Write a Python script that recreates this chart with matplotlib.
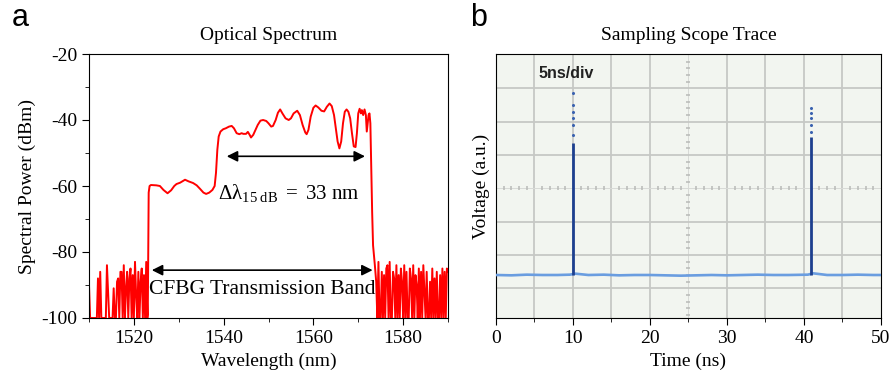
import numpy as np
import matplotlib
matplotlib.use("Agg")
import matplotlib.pyplot as plt
from matplotlib.ticker import MultipleLocator

plt.rcParams['font.family'] = ['Liberation Serif', 'DejaVu Serif']
plt.rcParams['mathtext.fontset'] = 'custom'
plt.rcParams['mathtext.rm'] = 'Liberation Serif'
plt.rcParams['mathtext.it'] = 'Liberation Serif:italic'
plt.rcParams['axes.unicode_minus'] = False

# ---- panel a: optical spectrum ----
noise_step = 0.25
noise_left_start = 1510.0
noise_left_db = [-90, -100, -100, -100, -100, -100, -100, -100, -88, -100, -86, -100,
                 -100, -100, -100, -100, -84, -92, -100, -100, -100, -100, -91, -100,
                 -100, -89, -88, -100, -86, -86, -100, -84, -100, -91, -86, -100,
                 -88, -85, -100, -87, -100, -83, -93, -100, -86, -100, -89, -85,
                 -100, -87, -100, -83, -100]
noise_right_start = 1574.0
noise_right_db = [-89, -100, -83, -100, -100, -86, -100, -87, -100, -85, -84, -100,
                  -83, -100, -100, -86, -88, -100, -84, -100, -87, -100, -85, -89,
                  -100, -84, -100, -86, -100, -100, -85, -88, -100, -84, -100, -87,
                  -90, -100, -85, -100, -86, -100, -84, -92, -100, -86, -100, -100,
                  -89, -100, -85, -100, -88, -100, -86, -100, -100, -87, -100, -85,
                  -100, -86, -100, -85, -86]

band_wl = [1523.1, 1523.3, 1523.5, 1523.8, 1525.0, 1525.8, 1526.6, 1527.5, 1528.3, 1529.0,
           1529.5, 1530.3, 1531.4, 1532.2, 1533.2, 1534.0, 1534.7, 1535.5, 1536.1, 1536.8,
           1537.5, 1538.0, 1538.3, 1538.6, 1538.9, 1539.3, 1539.9, 1540.5, 1541.2, 1541.8,
           1542.3, 1542.9, 1543.5, 1544.0, 1544.4, 1545.0, 1545.4, 1545.8, 1546.1, 1546.6,
           1547.0, 1547.6, 1548.2, 1548.8, 1549.5, 1550.0, 1550.6, 1551.0, 1551.6, 1552.1,
           1552.6, 1553.1, 1553.8, 1554.5, 1555.0, 1555.6, 1556.4, 1557.0, 1557.6, 1558.2,
           1558.5, 1558.9, 1559.4, 1560.0, 1560.5, 1561.1, 1561.8, 1562.4, 1563.0, 1563.6,
           1564.1, 1564.6, 1565.0, 1565.4, 1565.8, 1566.2, 1566.6, 1567.0, 1567.4, 1567.8,
           1568.2, 1568.6, 1569.0, 1569.4, 1569.7, 1570.0, 1570.3, 1570.6, 1570.8, 1571.1,
           1571.4, 1571.7, 1571.9, 1572.1, 1572.3, 1572.5, 1572.7, 1572.9, 1573.1, 1573.3,
           1573.5, 1573.7]
band_db = [-99, -62, -60, -59.7, -59.8, -60.0, -61.2, -62.2, -61.3, -60.0,
           -59.4, -59.0, -58.1, -58.6, -59.1, -59.8, -60.8, -62.0, -62.4, -62.0,
           -61.2, -60.0, -56.0, -49.0, -45.0, -43.5, -42.8, -42.5, -42.0, -41.8,
           -42.5, -44.0, -44.3, -44.0, -44.2, -44.2, -43.6, -44.5, -45.3, -44.5,
           -43.3, -41.5, -40.2, -40.0, -40.3, -41.0, -42.0, -41.8, -40.0, -37.8,
           -36.8, -38.0, -39.5, -40.0, -39.5, -38.0, -37.2, -38.5, -41.5, -43.8,
           -44.3, -43.0, -39.0, -36.3, -35.6, -36.2, -37.2, -37.4, -36.0, -35.0,
           -35.8, -38.5, -42.5, -46.5, -48.6, -46.5, -41.0, -37.5, -36.8, -37.5,
           -39.5, -44.0, -48.0, -48.2, -44.0, -38.0, -36.6, -38.0, -37.0, -38.5,
           -36.8, -38.5, -43.5, -41.0, -38.5, -38.0, -41.0, -55.0, -68.0, -78.0,
           -81.0, -84.0]

# arrows: (start wl, end wl, level dBm)
width_arrow = (1540.7, 1571.5, -51)
band_arrow = (1524.0, 1573.2, -85.5)

# ---- panel b: sampling scope trace (in screen divisions) ----
base_t = [0, 2, 4, 6, 8, 9.6, 10.3, 12, 14, 16, 18, 20, 22, 24, 26, 28, 30, 32, 34,
          36, 38, 40.5, 41.2, 43, 45, 47, 49, 50]
base_v = [0.40, 0.39, 0.41, 0.40, 0.40, 0.41, 0.44, 0.40, 0.41, 0.39, 0.40, 0.40, 0.39,
          0.38, 0.39, 0.40, 0.39, 0.40, 0.41, 0.40, 0.40, 0.41, 0.45, 0.40, 0.40, 0.41,
          0.40, 0.40]
peak_t = [9.95, 40.85]
peak_dense = [4.35, 4.55]
peak1_dots = [4.6, 4.9, 5.1, 5.3, 5.5, 5.85]
peak2_dots = [4.7, 4.9, 5.1, 5.25, 5.4]

fig = plt.figure(figsize=(8.95, 3.82), dpi=100)
ax1 = fig.add_axes([89/895, 1-318/382, 359/895, 264/382])
ax2 = fig.add_axes([496/895, 1-318/382, 385/895, 264/382])

nl_wl = noise_left_start + noise_step*np.arange(len(noise_left_db))
nr_wl = noise_right_start + noise_step*np.arange(len(noise_right_db))
wl = np.concatenate([nl_wl, band_wl, nr_wl])
db = np.concatenate([noise_left_db, band_db, noise_right_db])
ax1.plot(wl, db, color='#ff0000', lw=1.4)

ax1.set_xlim(1510, 1590)
ax1.set_ylim(-100, -20)
ax1.xaxis.set_major_locator(MultipleLocator(20))
ax1.xaxis.set_minor_locator(MultipleLocator(10))
ax1.yaxis.set_major_locator(MultipleLocator(20))
ax1.yaxis.set_minor_locator(MultipleLocator(10))
ax1.tick_params(which='both', direction='out', top=False, right=False, labelsize=14)
ax1.tick_params(which='major', length=5)
ax1.tick_params(which='minor', length=3)
ax1.set_xlabel('Wavelength (nm)', fontsize=14)
ax1.set_ylabel('Spectral Power (dBm)', fontsize=14)
ax1.set_title('Optical Spectrum', fontsize=14, pad=10)

for a0, a1, lev in [width_arrow, band_arrow]:
    ax1.annotate('', xy=(a1, lev), xytext=(a0, lev),
                 arrowprops=dict(arrowstyle='<|-|>', color='black', lw=1.2,
                                 mutation_scale=16, shrinkA=0, shrinkB=0))
ax1.text(1538.8, -62.2, r'$\mathrm{\Delta\lambda_{15\ dB}\ =\ 33\ nm}$',
         fontsize=15, va='center', ha='left')
ax1.text(1548.5, -91.5, 'CFBG Transmission Band', fontsize=15.5, va='center', ha='center')

# scope screen
ax2.set_facecolor('#f2f5f0')
ax2.set_xlim(0, 50)
ax2.set_ylim(-0.89, 7.03)
grid_col = '#c6c8c5'
center_col = '#b8bab7'
for gx in np.arange(5, 50, 5):
    if gx == 25:
        ax2.axvline(gx, color='#d8dad7', lw=0.7, zorder=1)
    else:
        ax2.axvline(gx, color=grid_col, lw=1.3, zorder=1)
for gy in range(0, 7):
    if gy == 3:
        ax2.axhline(gy, color='#d8dad7', lw=0.7, zorder=1)
    else:
        ax2.axhline(gy, color=grid_col, lw=1.3, zorder=1)
# sub-division marks on the centre lines
sub_t = [t for t in np.arange(1, 50, 1) if t % 5 != 0]
sub_v = [v for v in np.arange(-0.8, 7.0, 0.2) if abs(v - round(v)) > 0.05]
ax2.plot(sub_t, [3]*len(sub_t), ls='none', marker='|', ms=3, mew=1.1,
         color=center_col, zorder=1)
ax2.plot([25]*len(sub_v), sub_v, ls='none', marker='_', ms=3, mew=1.1,
         color=center_col, zorder=1)

ax2.plot(base_t, base_v, color='#6a9de0', lw=1.9, zorder=3)
ax2.vlines(peak_t, [0.4, 0.4], peak_dense, color='#1d3f8f', lw=2.0, zorder=4)
ax2.plot([peak_t[0]]*len(peak1_dots), peak1_dots, ls='none', marker='.', ms=2.4,
         color='#3a62b0', zorder=4)
ax2.plot([peak_t[1]]*len(peak2_dots), peak2_dots, ls='none', marker='.', ms=2.4,
         color='#3a62b0', zorder=4)
ax2.text(0.11, 0.925, '5ns/div', transform=ax2.transAxes, fontsize=11.5,
         fontweight='bold', family='Liberation Sans', color='#222222', va='center')

ax2.xaxis.set_major_locator(MultipleLocator(10))
ax2.xaxis.set_minor_locator(MultipleLocator(5))
ax2.set_yticks([])
ax2.tick_params(which='both', direction='out', top=False, right=False, labelsize=14)
ax2.tick_params(which='major', length=5)
ax2.tick_params(which='minor', length=3)
ax2.set_xlabel('Time (ns)', fontsize=14)
ax2.set_ylabel('Voltage (a.u.)', fontsize=14)
ax2.set_title('Sampling Scope Trace', fontsize=14, pad=10)

fig.text(12/895, 1-18/382, 'a', fontsize=22, family='Liberation Sans', va='center')
fig.text(470/895, 1-18/382, 'b', fontsize=22, family='Liberation Sans', va='center')

fig.savefig('out.png', dpi=100)
